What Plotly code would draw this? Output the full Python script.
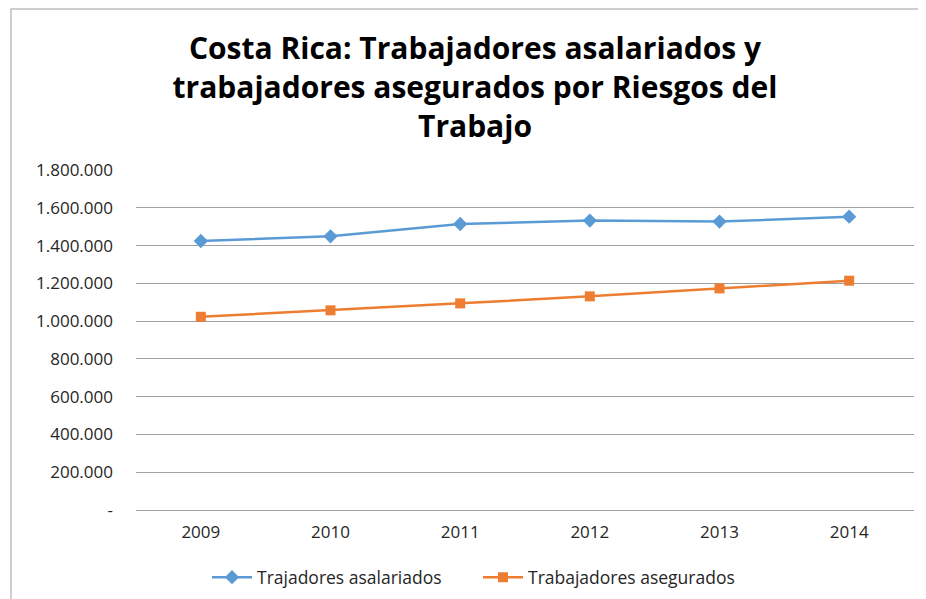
import plotly.graph_objects as go

years = ["2009", "2010", "2011", "2012", "2013", "2014"]
asalariados = [1424000, 1449000, 1514000, 1532000, 1527000, 1553000]
asegurados = [1023000, 1057000, 1094000, 1131000, 1173000, 1214000]
y_tickvals = [0, 200000, 400000, 600000, 800000, 1000000, 1200000, 1400000, 1600000, 1800000]
y_ticktext = ["-", "200.000", "400.000", "600.000", "800.000", "1.000.000",
              "1.200.000", "1.400.000", "1.600.000", "1.800.000"]
series_names = ["Trajadores asalariados", "Trabajadores asegurados"]
title_text = ("Costa Rica: Trabajadores asalariados y<br>"
              "trabajadores asegurados por Riesgos del<br>Trabajo")

FONT = "Open Sans"
BLUE = "#5B9BD5"
ORANGE = "#ED7D31"
TXT = "#262626"

# figure is shifted 8px by the page's default body margin; size it to fit the window
W, H = 918, 591
L, R, T, B = 128, 12, 162, 89
PW, PH = W - L - R, H - T - B

fig = go.Figure()
fig.add_trace(go.Scatter(
    x=years, y=asalariados, name=series_names[0], mode="lines+markers",
    line=dict(color=BLUE, width=2.5),
    marker=dict(symbol="diamond", size=11, color=BLUE),
))
fig.add_trace(go.Scatter(
    x=years, y=asegurados, name=series_names[1], mode="lines+markers",
    line=dict(color=ORANGE, width=2.5),
    marker=dict(symbol="square", size=10, color=ORANGE),
))

fig.update_layout(
    width=W, height=H,
    margin=dict(l=L, r=R, t=T, b=B, autoexpand=False),
    paper_bgcolor="white", plot_bgcolor="white",
    font=dict(family=FONT, size=17, color=TXT),
    title=dict(
        text=title_text, x=467 / W, xanchor="center",
        y=1 - 51 / H, yanchor="top", yref="container",
        font=dict(family=FONT, size=30, color="black", weight="bold"),
    ),
    showlegend=True,
    legend=dict(
        orientation="h", x=(470 - L) / PW, xanchor="center",
        y=-0.145, yanchor="top",
        font=dict(family=FONT, size=17.5, color=TXT),
        itemwidth=40, traceorder="normal", entrywidth=216,
    ),
    xaxis=dict(
        type="category", range=[-0.5, 5.5], showgrid=False, automargin=False,
        showline=False, ticks="", ticklabelstandoff=10, tickangle=0,
        tickfont=dict(family=FONT, size=17, color=TXT),
    ),
    yaxis=dict(
        range=[0, 1800000], tickvals=y_tickvals, ticktext=y_ticktext,
        automargin=False,
        showgrid=True, gridcolor="#a0a0a0", gridwidth=1,
        zeroline=True, zerolinecolor="#a0a0a0", zerolinewidth=1,
        showline=False, ticks="", ticklabelstandoff=22,
        tickfont=dict(family=FONT, size=17, color=TXT),
    ),
    shapes=[dict(
        type="rect", xref="paper", yref="paper",
        x0=(3 - L) / PW, x1=1.2, y0=-0.6, y1=(PH + T - 1) / PH,
        line=dict(color="#bfbfbf", width=1.5), fillcolor="rgba(0,0,0,0)",
        layer="below",
    )],
)

fig.write_html("out.html")
